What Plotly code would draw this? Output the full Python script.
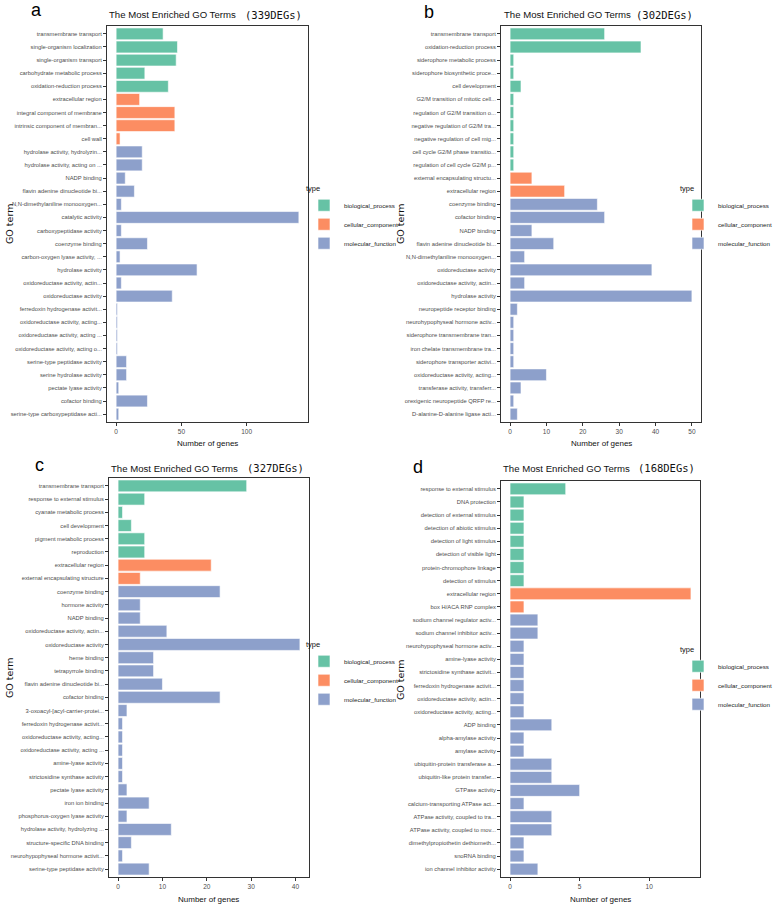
import plotly.graph_objects as go

W, H = 778, 907

TYPE_ORDER = ["biological_process", "cellular_component", "molecular_function"]
COLORS = {"biological_process": "#66C2A5", "cellular_component": "#FC8D62", "molecular_function": "#8DA0CB"}

# ---------------- data ----------------
a_terms = ["transmembrane transport", "single-organism localization", "single-organism transport",
           "carbohydrate metabolic process", "oxidation-reduction process", "extracellular region",
           "integral component of membrane", "intrinsic component of membran...", "cell wall",
           "hydrolase activity, hydrolyzin...", "hydrolase activity, acting on ...", "NADP binding",
           "flavin adenine dinucleotide bi...", "N,N-dimethylaniline monooxygen...", "catalytic activity",
           "carboxypeptidase activity", "coenzyme binding", "carbon-oxygen lyase activity, ...",
           "hydrolase activity", "oxidoreductase activity, actin...", "oxidoreductase activity",
           "ferredoxin hydrogenase activit...", "oxidoreductase activity, acting...",
           "oxidoreductase activity, acting ...", "oxidoreductase activity, acting o...",
           "serine-type peptidase activity", "serine hydrolase activity", "pectate lyase activity",
           "cofactor binding", "serine-type carboxypeptidase acti..."]
a_counts = [36, 47, 46, 22, 40, 18, 45, 45, 3, 20, 20, 7, 14, 4, 140, 4, 24, 3, 62, 4, 43, 1, 1, 1, 1, 8, 8, 2, 24, 2]
a_types = ["biological_process"] * 5 + ["cellular_component"] * 4 + ["molecular_function"] * 21

b_terms = ["transmembrane transport", "oxidation-reduction process", "siderophore metabolic process",
           "siderophore biosynthetic proce...", "cell development", "G2/M transition of mitotic cell...",
           "regulation of G2/M transition o...", "negative regulation of G2/M tra...",
           "negative regulation of cell mig...", "cell cycle G2/M phase transitio...",
           "regulation of cell cycle G2/M p...", "external encapsulating structu...", "extracellular region",
           "coenzyme binding", "cofactor binding", "NADP binding", "flavin adenine dinucleotide bi...",
           "N,N-dimethylaniline monooxygen...", "oxidoreductase activity", "oxidoreductase activity, actin...",
           "hydrolase activity", "neuropeptide receptor binding", "neurohypophyseal hormone activ...",
           "siderophore transmembrane tran...", "iron chelate transmembrane tra...",
           "siderophore transporter activi...", "oxidoreductase activity, acting...",
           "transferase activity, transferr...", "orexigenic neuropeptide QRFP re...",
           "D-alanine-D-alanine ligase acti..."]
b_counts = [26, 36, 1, 1, 3, 1, 1, 1, 1, 1, 1, 6, 15, 24, 26, 6, 12, 4, 39, 4, 50, 2, 1, 1, 1, 1, 10, 3, 1, 2]
b_types = ["biological_process"] * 11 + ["cellular_component"] * 2 + ["molecular_function"] * 17

c_terms = ["transmembrane transport", "response to external stimulus", "cyanate metabolic process",
           "cell development", "pigment metabolic process", "reproduction", "extracellular region",
           "external encapsulating structure", "coenzyme binding", "hormone activity", "NADP binding",
           "oxidoreductase activity, actin...", "oxidoreductase activity", "heme binding",
           "tetrapyrrole binding", "flavin adenine dinucleotide bi...", "cofactor binding",
           "3-oxoacyl-[acyl-carrier-protei...", "ferredoxin hydrogenase activit...",
           "oxidoreductase activity, acting...", "oxidoreductase activity, acting ...", "amine-lyase activity",
           "strictosidine synthase activity", "pectate lyase activity", "iron ion binding",
           "phosphorus-oxygen lyase activity", "hydrolase activity, hydrolyzing ...",
           "structure-specific DNA binding", "neurohypophyseal hormone activit...",
           "serine-type peptidase activity"]
c_counts = [29, 6, 1, 3, 6, 6, 21, 5, 23, 5, 5, 11, 41, 8, 8, 10, 23, 2, 1, 1, 1, 1, 1, 2, 7, 2, 12, 3, 1, 7]
c_types = ["biological_process"] * 6 + ["cellular_component"] * 2 + ["molecular_function"] * 22

d_terms = ["response to external stimulus", "DNA protection", "detection of external stimulus",
           "detection of abiotic stimulus", "detection of light stimulus", "detection of visible light",
           "protein-chromophore linkage", "detection of stimulus", "extracellular region",
           "box H/ACA RNP complex", "sodium channel regulator activ...", "sodium channel inhibitor activ...",
           "neurohypophyseal hormone activ...", "amine-lyase activity", "strictosidine synthase activit...",
           "ferredoxin hydrogenase activit...", "oxidoreductase activity, actin...",
           "oxidoreductase activity, acting...", "ADP binding", "alpha-amylase activity", "amylase activity",
           "ubiquitin-protein transferase a...", "ubiquitin-like protein transfer...", "GTPase activity",
           "calcium-transporting ATPase act...", "ATPase activity, coupled to tra...",
           "ATPase activity, coupled to mov...", "dimethylpropiothetin dethiometh...", "snoRNA binding",
           "ion channel inhibitor activity"]
d_counts = [4, 1, 1, 1, 1, 1, 1, 1, 13, 1, 2, 2, 1, 1, 1, 1, 1, 1, 3, 1, 1, 3, 3, 5, 1, 3, 3, 1, 1, 2]
d_types = ["biological_process"] * 8 + ["cellular_component"] * 2 + ["molecular_function"] * 20

panel_letters = ["a", "b", "c", "d"]
deg_labels = ["(339DEGs)", "(302DEGs)", "(327DEGs)", "(168DEGs)"]
x_tickvals = [[0, 50, 100], [0, 10, 20, 30, 40, 50], [0, 10, 20, 30, 40], [0, 5, 10]]
title_text = "The Most Enriched GO Terms"

# ---------------- layout geometry (pixels) ----------------
SANS = "Liberation Sans, Arial, sans-serif"
panels = [
    dict(terms=a_terms, counts=a_counts, types=a_types, box=(107, 308, 26, 422),
         letter=(36, 10), title=(107, 15), deg=(243, 15), ytitle=(9, 224), xtitle=(207.5, 443),
         legend=(304, 181)),
    dict(terms=b_terms, counts=b_counts, types=b_types, box=(501, 701, 26, 422),
         letter=(429, 12), title=(502, 15), deg=(634, 15), ytitle=(400, 224), xtitle=(601, 443),
         legend=(678, 181)),
    dict(terms=c_terms, counts=c_counts, types=c_types, box=(109, 309, 478, 877),
         letter=(39, 465), title=(109, 468), deg=(245, 468), ytitle=(9, 678), xtitle=(208.5, 899),
         legend=(304, 637)),
    dict(terms=d_terms, counts=d_counts, types=d_types, box=(501, 700, 481, 877),
         letter=(418, 467), title=(501, 468), deg=(636, 468), ytitle=(400, 680), xtitle=(600.5, 899),
         legend=(678, 642)),
]


def px(x):
    return x / W


def py(y):
    return 1 - y / H


fig = go.Figure()
annotations = []
layout = dict(width=W, height=H, margin=dict(l=0, r=0, t=0, b=0, autoexpand=False), paper_bgcolor="white",
              plot_bgcolor="white", barmode="overlay", showlegend=True)

for i, p in enumerate(panels):
    n = i + 1
    xa = "x" if n == 1 else f"x{n}"
    ya = "y" if n == 1 else f"y{n}"
    lg = "legend" if n == 1 else f"legend{n}"
    for t in TYPE_ORDER:
        xs = [c for c, ty in zip(p["counts"], p["types"]) if ty == t]
        ys = [tm for tm, ty in zip(p["terms"], p["types"]) if ty == t]
        fig.add_trace(go.Bar(x=xs, y=ys, orientation="h", width=0.9, name=t,
                             marker=dict(color=COLORS[t], line=dict(color="white", width=0.6)),
                             xaxis=xa, yaxis=ya, legend=lg))
    mx = max(p["counts"])
    x0, x1, y0, y1 = p["box"]
    nt = len(p["terms"])
    layout["xaxis" if n == 1 else f"xaxis{n}"] = dict(
        domain=[px(x0), px(x1)], anchor=ya, range=[-0.05 * mx, 1.05 * mx], automargin=False,
        tickvals=x_tickvals[i], ticks="outside", ticklen=3, tickwidth=0.8, tickcolor="#333333",
        showline=True, linecolor="#333333", linewidth=1, mirror=True, showgrid=False, zeroline=False,
        tickfont=dict(family=SANS, size=6.5, color="#4D4D4D"))
    layout["yaxis" if n == 1 else f"yaxis{n}"] = dict(
        domain=[py(y1), py(y0)], anchor=xa, type="category", categoryorder="array", automargin=False,
        categoryarray=p["terms"], range=[nt - 1 + 0.6, -0.6],
        ticks="outside", ticklen=3, tickwidth=0.8, tickcolor="#333333",
        showline=True, linecolor="#333333", linewidth=1, mirror=True, showgrid=False, zeroline=False,
        tickfont=dict(family=SANS, size=5.8, color="#4D4D4D"))
    lx, ly = p["legend"]
    layout[lg] = dict(x=px(lx), y=py(ly), xanchor="left", yanchor="top",
                      title=dict(text="type", font=dict(family=SANS, size=7.5, color="#111111")),
                      font=dict(family=SANS, size=6.2, color="#222222"), bgcolor="rgba(0,0,0,0)",
                      itemwidth=30, tracegroupgap=0, traceorder="normal", itemclick=False)
    lx_, ly_ = p["letter"]
    annotations.append(dict(text=panel_letters[i], x=px(lx_), y=py(ly_), xref="paper", yref="paper",
                            showarrow=False, xanchor="center", yanchor="middle",
                            font=dict(family=SANS, size=18, color="#000000")))
    tx, ty_ = p["title"]
    annotations.append(dict(text=title_text, x=px(tx), y=py(ty_), xref="paper", yref="paper",
                            showarrow=False, xanchor="left", yanchor="middle",
                            font=dict(family=SANS, size=9.6, color="#111111")))
    dx, dy = p["deg"]
    annotations.append(dict(text=deg_labels[i], x=px(dx), y=py(dy), xref="paper", yref="paper",
                            showarrow=False, xanchor="left", yanchor="middle",
                            font=dict(family="DejaVu Sans Mono, monospace", size=10.5, color="#111111")))
    gx, gy = p["ytitle"]
    annotations.append(dict(text="GO term", x=px(gx), y=py(gy), xref="paper", yref="paper",
                            showarrow=False, xanchor="center", yanchor="middle", textangle=-90,
                            font=dict(family="DejaVu Sans, sans-serif", size=9.5, color="#111111")))
    nx, ny = p["xtitle"]
    annotations.append(dict(text="Number of genes", x=px(nx), y=py(ny), xref="paper", yref="paper",
                            showarrow=False, xanchor="center", yanchor="middle",
                            font=dict(family=SANS, size=8, color="#111111")))

layout["annotations"] = annotations
fig.update_layout(**layout)
fig.write_html("out.html", config={"displayModeBar": False},
               post_script="document.body.style.margin='0';")
